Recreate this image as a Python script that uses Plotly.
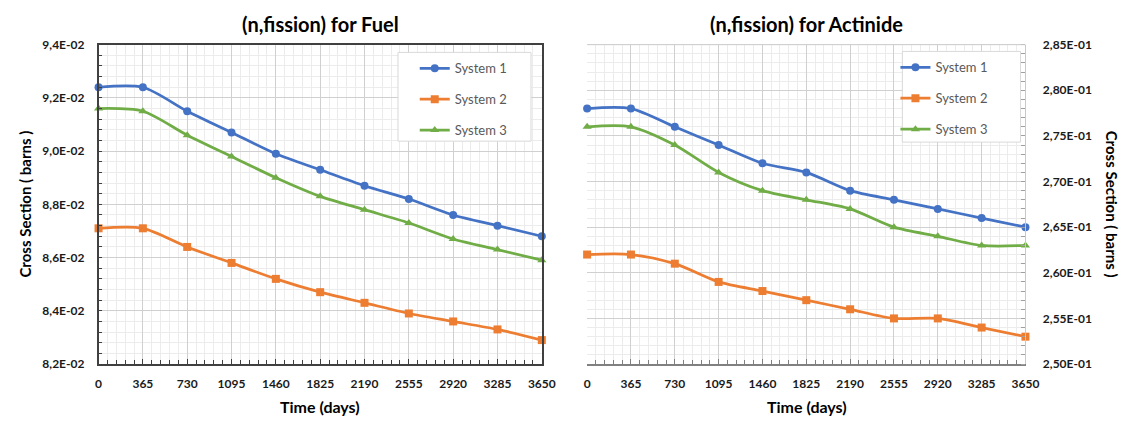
import plotly.graph_objects as go

days = [0, 365, 730, 1095, 1460, 1825, 2190, 2555, 2920, 3285, 3650]
series_names = ["System 1", "System 2", "System 3"]

fuel_s1 = [0.0924, 0.0924, 0.0915, 0.0907, 0.0899, 0.0893, 0.0887, 0.0882, 0.0876, 0.0872, 0.0868]
fuel_s2 = [0.0871, 0.0871, 0.0864, 0.0858, 0.0852, 0.0847, 0.0843, 0.0839, 0.0836, 0.0833, 0.0829]
fuel_s3 = [0.0916, 0.0915, 0.0906, 0.0898, 0.0890, 0.0883, 0.0878, 0.0873, 0.0867, 0.0863, 0.0859]

act_s1 = [0.278, 0.278, 0.276, 0.274, 0.272, 0.271, 0.269, 0.268, 0.267, 0.266, 0.265]
act_s2 = [0.262, 0.262, 0.261, 0.259, 0.258, 0.257, 0.256, 0.255, 0.255, 0.254, 0.253]
act_s3 = [0.276, 0.276, 0.274, 0.271, 0.269, 0.268, 0.267, 0.265, 0.264, 0.263, 0.263]

fuel_tickvals = [0.082, 0.084, 0.086, 0.088, 0.090, 0.092, 0.094]
fuel_ticktext = ["8,2E-02", "8,4E-02", "8,6E-02", "8,8E-02", "9,0E-02", "9,2E-02", "9,4E-02"]
act_tickvals = [0.250, 0.255, 0.260, 0.265, 0.270, 0.275, 0.280, 0.285]
act_ticktext = ["2,50E-01", "2,55E-01", "2,60E-01", "2,65E-01", "2,70E-01", "2,75E-01", "2,80E-01", "2,85E-01"]

colors = ["#4472C4", "#ED7D31", "#70AD47"]
symbols = ["circle", "square", "triangle-up"]

W, H = 1136, 427
def px(x):
    return x / W
def py(y):
    return 1 - y / H

FONT = "Lato"
fig = go.Figure()

for i, (ys, name) in enumerate(zip([fuel_s1, fuel_s2, fuel_s3], series_names)):
    fig.add_trace(go.Scatter(
        x=days, y=ys, name=name, mode="lines+markers",
        line=dict(color=colors[i], width=2.75, shape="spline", smoothing=0.8),
        marker=dict(symbol=symbols[i], size=8, color=colors[i]),
        xaxis="x", yaxis="y", legend="legend", legendgroup="a%d" % i,
        cliponaxis=False,
    ))
for i, (ys, name) in enumerate(zip([act_s1, act_s2, act_s3], series_names)):
    fig.add_trace(go.Scatter(
        x=days, y=ys, name=name, mode="lines+markers",
        line=dict(color=colors[i], width=2.75, shape="spline", smoothing=0.8),
        marker=dict(symbol=symbols[i], size=8, color=colors[i]),
        xaxis="x2", yaxis="y2", legend="legend2", legendgroup="b%d" % i,
        cliponaxis=False,
    ))

tickfont = dict(family=FONT, size=12, color="#1a1a1a", weight="bold")
minor_grid = "#ececec"
major_grid = "#d0d0d0"

def xaxis_cfg(domain, anchor, linecolor, mirror):
    return dict(
        domain=domain, anchor=anchor, range=[0, 3650],
        tickmode="array", tickvals=days, ticktext=[str(d) for d in days],
        showgrid=True, gridcolor=major_grid, gridwidth=1,
        minor=dict(tickmode="linear", tick0=0, dtick=73, showgrid=True,
                   gridcolor=minor_grid, ticks="inside", ticklen=4,
                   tickcolor=linecolor),
        ticks="inside", ticklen=5, tickcolor=linecolor,
        showline=True, linecolor=linecolor, linewidth=1.5, mirror=mirror,
        tickfont=tickfont, ticklabelstandoff=8, zeroline=False,
    )

fig.update_layout(
    width=W, height=H, margin=dict(l=0, r=0, t=0, b=0),
    paper_bgcolor="white", plot_bgcolor="white",
    xaxis=xaxis_cfg([px(97), px(547)], "y", "#404040", True),
    yaxis=dict(
        domain=[py(369), py(38)], anchor="x", range=[0.082, 0.094],
        tickmode="array", tickvals=fuel_tickvals, ticktext=fuel_ticktext,
        showgrid=True, gridcolor=major_grid,
        minor=dict(tickmode="linear", tick0=0.082, dtick=0.0004, showgrid=True,
                   gridcolor=minor_grid, ticks="inside", ticklen=4, tickcolor="#404040"),
        ticks="", showline=True, linecolor="#404040", linewidth=1.5, mirror=True,
        tickfont=tickfont, ticklabelstandoff=10, zeroline=False,
    ),
    xaxis2=xaxis_cfg([px(593), px(1038)], "y2", "#808080", False),
    yaxis2=dict(
        domain=[py(369), py(38)], anchor="x2", side="right", range=[0.25, 0.285],
        tickmode="array", tickvals=act_tickvals, ticktext=act_ticktext,
        showgrid=True, gridcolor=major_grid,
        minor=dict(tickmode="linear", tick0=0.25, dtick=0.001, showgrid=True,
                   gridcolor=minor_grid, ticks="inside", ticklen=4, tickcolor="#a0a0a0"),
        ticks="", showline=True, linecolor="#c8c8c8", linewidth=1,
        tickfont=tickfont, ticklabelstandoff=14, zeroline=False,
    ),
    showlegend=True,
    legend=dict(x=px(418), y=py(47), xanchor="left", yanchor="top",
                bgcolor="rgba(0,0,0,0)", borderwidth=0, tracegroupgap=11,
                font=dict(family=FONT, size=13, color="#595959"), itemwidth=30),
    legend2=dict(x=px(906), y=py(46), xanchor="left", yanchor="top",
                 bgcolor="rgba(0,0,0,0)", borderwidth=0, tracegroupgap=11,
                 font=dict(family=FONT, size=13, color="#595959"), itemwidth=30),
)

# legend boxes
fig.add_shape(type="rect", xref="paper", yref="paper",
              x0=px(401), x1=px(536), y0=py(138), y1=py(46),
              line=dict(color="#d9d9d9", width=1), fillcolor="white", layer="above")
fig.add_shape(type="rect", xref="paper", yref="paper",
              x0=px(913), x1=px(1033), y0=py(139), y1=py(45),
              line=dict(color="#d9d9d9", width=1), fillcolor="white", layer="above")
# right plot top border (light)
fig.add_shape(type="line", xref="paper", yref="paper",
              x0=px(593), x1=px(1038), y0=py(38), y1=py(38),
              line=dict(color="#c8c8c8", width=1))

ann_font_title = dict(family=FONT, size=20, color="#000000", weight="bold")
ann_font_axis = dict(family=FONT, size=16, color="#000000", weight="bold")
annotations = [
    dict(text="(n,fission) for Fuel", x=px(322), y=py(17), font=ann_font_title),
    dict(text="(n,fission) for Actinide", x=px(816), y=py(17), font=ann_font_title),
    dict(text="Time (days)", x=px(322), y=py(413), font=ann_font_axis),
    dict(text="Time (days)", x=px(816), y=py(413), font=ann_font_axis),
    dict(text="Cross Section ( barns )", x=px(22), y=py(203), textangle=-90,
         font=dict(family=FONT, size=15, color="#000000", weight="bold")),
    dict(text="Cross Section ( barns )", x=px(1126), y=py(203), textangle=90,
         font=dict(family=FONT, size=15, color="#000000", weight="bold")),
]
for a in annotations:
    fig.add_annotation(xref="paper", yref="paper", showarrow=False,
                       xanchor="center", yanchor="middle", **a)

fig.write_html("out.html")
